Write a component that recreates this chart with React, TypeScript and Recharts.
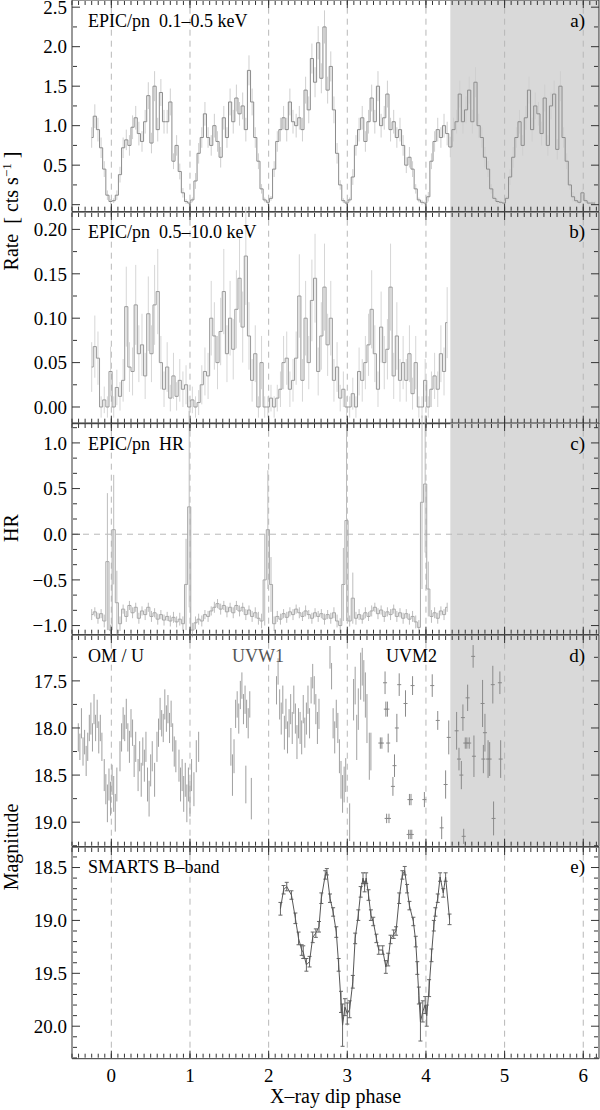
import React from "react";
import {
  ComposedChart,
  Line,
  Scatter,
  XAxis,
  YAxis,
  ErrorBar,
  ReferenceLine,
  ReferenceArea,
} from "recharts";

// X-ray light curves, binned in phase (bin centre = binStart + i * binWidth)
const binStart = -0.25;
const binWidth = 0.04;

const softRate = [
  0.85, 1.12, 0.95, 0.72, 0.45, 0.12, 0.04, 0.05, 0.12, 0.38,
  0.72, 0.82, 0.75, 0.98, 1.1, 0.9, 0.8, 1.05, 1.38, 0.78,
  1.5, 0.95, 1.42, 1.05, 1.05, 1.3, 0.55, 0.75, 0.42, 0.15,
  0.04, 0.02, 0.06, 0.3, 0.65, 0.85, 1.15, 0.85, 0.75, 1.0,
  0.8, 0.6, 1.1, 0.85, 1.3, 1.05, 1.35, 1.15, 1.25, 0.95,
  1.7, 1.3, 0.85, 0.55, 0.2, 0.06, 0.03, 0.08, 0.45, 0.8,
  0.95, 1.1, 0.95, 1.3, 1.05, 1.0, 1.1, 0.95, 1.45, 1.2,
  1.85, 1.55, 2.05, 1.6, 2.25, 1.45, 1.75, 1.2, 0.65, 0.25,
  0.05, 0.02, 0.06, 0.35, 0.75, 0.95, 1.1, 0.8, 1.05, 1.35,
  1.05, 1.5, 1.0, 1.1, 1.4, 0.95, 1.05, 0.85, 0.95, 0.75,
  0.5, 0.6, 0.45, 0.2, 0.06, 0.03, 0.02, 0.1, 0.55, 0.8,
  0.95, 0.85, 1.0, 0.9, 0.73, 0.95, 1.05, 1.4, 1.05, 1.2,
  1.45, 1.05, 1.55, 1.0, 0.85, 0.6, 0.45, 0.2, 0.08, 0.04,
  0.03, 0.02, 0.08, 0.35, 0.6, 0.85, 1.05, 0.75, 1.1, 1.45,
  0.95, 1.25, 1.15, 0.9, 1.35, 0.75, 1.25, 1.4, 0.7, 1.5,
  0.85, 0.55, 0.25, 0.1, 0.05, 0.03, 0.15, 0.05, 0.02, 0.02,
  0.02,
];
const softErr = [
  0.13, 0.15, 0.15, 0.13, 0.1, 0.06, 0.03, 0.03, 0.06, 0.1,
  0.13, 0.13, 0.13, 0.15, 0.15, 0.15, 0.13, 0.15, 0.17, 0.13,
  0.19, 0.15, 0.17, 0.15, 0.15, 0.17, 0.1, 0.13, 0.1, 0.06,
  0.03, 0.03, 0.03, 0.1, 0.13, 0.13, 0.15, 0.13, 0.13, 0.15,
  0.13, 0.13, 0.15, 0.13, 0.17, 0.15, 0.17, 0.15, 0.17, 0.15,
  0.19, 0.17, 0.13, 0.1, 0.06, 0.03, 0.03, 0.03, 0.1, 0.13,
  0.15, 0.15, 0.15, 0.17, 0.15, 0.15, 0.15, 0.15, 0.17, 0.17,
  0.19, 0.19, 0.21, 0.19, 0.21, 0.17, 0.19, 0.17, 0.13, 0.06,
  0.03, 0.03, 0.03, 0.1, 0.13, 0.15, 0.15, 0.13, 0.15, 0.17,
  0.15, 0.19, 0.15, 0.15, 0.17, 0.15, 0.15, 0.13, 0.15, 0.13,
  0.1, 0.13, 0.1, 0.06, 0.03, 0.03, 0.03, 0.06, 0.1, 0.13,
  0.15, 0.13, 0.15, 0.15, 0.13, 0.15, 0.15, 0.17, 0.15, 0.17,
  0.17, 0.15, 0.19, 0.15, 0.13, 0.13, 0.1, 0.06, 0.03, 0.03,
  0.03, 0.03, 0.03, 0.1, 0.13, 0.13, 0.15, 0.13, 0.15, 0.17,
  0.15, 0.17, 0.15, 0.15, 0.17, 0.13, 0.17, 0.17, 0.13, 0.19,
  0.13, 0.1, 0.06, 0.06, 0.03, 0.03, 0.06, 0.03, 0.03, 0.03,
  0.03,
];

const hardRate = [
  0.045, 0.068, 0.055, 0.0, 0.008, 0.0, 0.04, 0.0, 0.022, 0.012,
  0.03, 0.113, 0.045, 0.04, 0.115, 0.06, 0.07, 0.035, 0.105, 0.06,
  0.115, 0.13, 0.05, 0.02, 0.045, 0.01, 0.035, 0.012, 0.03, 0.02,
  0.025, 0.0, 0.008, 0.0, 0.005, 0.025, 0.04, 0.035, 0.1, 0.08,
  0.05, 0.085, 0.13, 0.06, 0.1, 0.065, 0.11, 0.145, 0.09, 0.17,
  0.08, 0.03, 0.06, 0.0, 0.05, 0.0, 0.0, 0.01, 0.0, 0.01,
  0.02, 0.05, 0.055, 0.02, 0.03, 0.055, 0.125, 0.03, 0.1, 0.05,
  0.12, 0.145, 0.04, 0.08, 0.135, 0.07, 0.1, 0.03, 0.045, 0.01,
  0.02, 0.0, 0.0, 0.015, 0.0, 0.04, 0.03, 0.05, 0.07, 0.11,
  0.06, 0.02, 0.09, 0.05, 0.065, 0.135, 0.035, 0.08, 0.03, 0.05,
  0.03, 0.06, 0.015, 0.05, 0.0, 0.0, 0.03, 0.0, 0.02, 0.035,
  0.02, 0.06, 0.04, 0.095,
];
const hardErr = [
  0.028, 0.035, 0.03, 0.012, 0.015, 0.012, 0.028, 0.012, 0.02, 0.016,
  0.024, 0.045, 0.028, 0.027, 0.045, 0.032, 0.035, 0.026, 0.042, 0.032,
  0.045, 0.048, 0.03, 0.02, 0.028, 0.015, 0.026, 0.016, 0.024, 0.02,
  0.022, 0.012, 0.015, 0.012, 0.014, 0.022, 0.027, 0.026, 0.042, 0.038,
  0.03, 0.038, 0.048, 0.032, 0.042, 0.034, 0.044, 0.05, 0.04, 0.055,
  0.038, 0.024, 0.032, 0.012, 0.03, 0.012, 0.012, 0.015, 0.012, 0.015,
  0.02, 0.03, 0.03, 0.02, 0.024, 0.03, 0.047, 0.024, 0.042, 0.03,
  0.046, 0.05, 0.027, 0.038, 0.049, 0.035, 0.042, 0.024, 0.028, 0.015,
  0.02, 0.012, 0.012, 0.018, 0.012, 0.027, 0.024, 0.03, 0.035, 0.044,
  0.032, 0.02, 0.04, 0.03, 0.034, 0.049, 0.026, 0.038, 0.024, 0.03,
  0.024, 0.032, 0.018, 0.03, 0.012, 0.012, 0.024, 0.012, 0.02, 0.026,
  0.02, 0.032, 0.027, 0.04,
];

const hardness = [
  -0.88, -0.85, -0.92, -0.87, -0.95, -0.3, -1.05, 0.05, -0.75, -0.98,
  -0.82, -0.9, -0.78, -0.86, -0.8, -0.92, -0.84, -0.88, -0.8, -0.9,
  -0.86, -0.93, -0.88, -0.94, -0.9, -0.95, -0.91, -0.96, -0.93, -0.98,
  -0.55, 0.3, -1.05, -0.97, -0.93, -0.95, -0.88, -0.9, -0.84, -0.8,
  -0.76, -0.82, -0.78, -0.85, -0.8, -0.86, -0.78, -0.84, -0.8, -0.88,
  -0.83, -0.9, -0.86, -0.92, -0.95, -0.5, 0.05, -0.55, -0.98, -0.9,
  -0.93, -0.87, -0.91, -0.85, -0.88, -0.82, -0.86, -0.9, -0.84, -0.88,
  -0.92, -0.86, -0.9, -0.87, -0.93, -0.88, -0.92, -0.86, -0.95, -1.0,
  -0.55, 0.15, -0.95, -0.7, -0.92, -0.88, -0.93, -0.86, -0.9, -0.84,
  -0.8, -0.87, -0.83, -0.9, -0.85, -0.88, -0.82, -0.9, -0.86, -0.92,
  -0.87, -0.93, -0.9, -0.96, -1.02, 0.35, 0.55, -0.6, -0.9, -0.86,
  -0.92, -0.84, -0.88, -0.8,
];
const hardnessErr = [
  0.06, 0.05, 0.06, 0.05, 0.07, 0.75, 0.06, 0.6, 0.35, 0.08,
  0.05, 0.06, 0.05, 0.06, 0.05, 0.06, 0.05, 0.06, 0.05, 0.06,
  0.05, 0.06, 0.05, 0.06, 0.05, 0.06, 0.06, 0.06, 0.07, 0.08,
  0.5, 1.1, 0.08, 0.07, 0.06, 0.06, 0.05, 0.06, 0.05, 0.06,
  0.05, 0.06, 0.05, 0.06, 0.05, 0.06, 0.05, 0.06, 0.05, 0.06,
  0.05, 0.06, 0.06, 0.07, 0.08, 0.5, 0.65, 0.3, 0.08, 0.06,
  0.06, 0.05, 0.06, 0.05, 0.06, 0.05, 0.06, 0.05, 0.06, 0.05,
  0.06, 0.05, 0.06, 0.05, 0.06, 0.05, 0.06, 0.06, 0.07, 0.08,
  0.4, 1.1, 0.06, 0.28, 0.07, 0.06, 0.05, 0.06, 0.05, 0.06,
  0.05, 0.06, 0.05, 0.06, 0.05, 0.06, 0.05, 0.06, 0.05, 0.06,
  0.05, 0.06, 0.06, 0.07, 0.08, 0.95, 0.75, 0.3, 0.07, 0.06,
  0.06, 0.05, 0.06, 0.05,
];

// XMM optical monitor photometry
const uPhase = [
  -0.42, -0.4, -0.38, -0.36, -0.34, -0.32, -0.3, -0.28, -0.26, -0.24, -0.22, -0.2, -0.18, -0.16, -0.14, -0.12,
  -0.09, -0.07, -0.05, -0.03, -0.01, 0.01, 0.03, 0.05, 0.07,
  0.11, 0.13, 0.15, 0.17, 0.19, 0.21, 0.23, 0.25, 0.27, 0.29, 0.31,
  0.34, 0.36, 0.38, 0.4, 0.42, 0.44, 0.46, 0.48, 0.5, 0.52, 0.55,
  0.58, 0.6, 0.62, 0.64, 0.66, 0.68, 0.7, 0.72, 0.74, 0.76, 0.78, 0.8, 0.82,
  0.86, 0.88, 0.9, 0.92, 0.94, 0.96, 0.98, 1.0, 1.02, 1.05, 1.08, 1.11,
];
const uMag = [
  18.1, 18.2, 17.95, 18.25, 18.15, 18.35, 18.2, 18.0, 17.9, 18.1, 17.8, 18.0, 17.85, 18.1, 18.0, 18.2,
  18.5, 18.65, 18.8, 18.6, 18.75, 18.55, 18.7, 18.9, 18.6,
  18.3, 18.1, 17.95, 18.0, 17.85, 18.1, 18.2, 17.95, 18.05, 18.35, 18.2,
  18.5, 18.3, 18.55, 18.25, 18.4, 18.2, 18.6, 18.75, 18.45, 18.3, 18.55,
  18.2, 18.05, 17.85, 17.95, 18.0, 17.75, 17.9, 17.8, 18.0, 17.85, 18.1, 18.25, 18.3,
  18.4, 18.6, 18.5, 18.7, 18.55, 18.8, 18.6, 18.75, 18.5, 18.65, 18.3, 18.2,
];
const uErr = [
  0.15, 0.14, 0.16, 0.15, 0.13, 0.16, 0.15, 0.14, 0.17, 0.15, 0.16, 0.14, 0.15, 0.17, 0.14, 0.15,
  0.17, 0.16, 0.2, 0.17, 0.18, 0.16, 0.19, 0.2, 0.18,
  0.16, 0.15, 0.17, 0.14, 0.16, 0.15, 0.17, 0.15, 0.14, 0.17, 0.16,
  0.17, 0.16, 0.18, 0.15, 0.17, 0.16, 0.18, 0.19, 0.17, 0.16, 0.18,
  0.16, 0.15, 0.17, 0.14, 0.15, 0.16, 0.14, 0.15, 0.16, 0.14, 0.15, 0.16, 0.17,
  0.17, 0.18, 0.17, 0.19, 0.18, 0.2, 0.18, 0.19, 0.17, 0.18, 0.17, 0.16,
];

const uvw1Phase = [
  1.52, 1.54, 1.56, 1.58, 1.6, 1.62, 1.64, 1.66, 1.68, 1.7, 1.71, 1.72, 1.74, 1.76, 1.78,
  2.1, 2.12, 2.14, 2.16, 2.18, 2.2, 2.22, 2.24, 2.26, 2.28, 2.3, 2.32, 2.34, 2.36,
  2.38, 2.4, 2.42, 2.44, 2.46, 2.48, 2.5, 2.52, 2.54, 2.56, 2.58, 2.6, 2.62, 2.64,
  2.78, 2.8, 2.82, 2.84, 2.86, 2.88, 2.9, 2.92, 2.94, 2.96, 2.98,
  3.03, 3.08, 3.1, 3.12, 3.14, 3.17, 3.19, 3.21, 3.23, 3.25, 3.28, 3.3,
];
const uvw1Mag = [
  18.2, 18.5, 18.3, 17.85, 17.75, 17.9, 17.65, 17.55, 17.8, 17.7, 18.6, 17.85, 17.95, 17.75, 18.75,
  17.6, 17.4, 17.75, 17.9, 17.7, 18.05, 17.85, 18.1, 17.95, 17.8, 18.0, 17.7, 17.9, 18.15,
  17.95, 18.0, 18.1, 17.8, 18.05, 17.9, 17.7, 17.95, 17.6, 17.45, 17.6, 17.8, 18.0, 17.85,
  17.25, 17.45, 17.95, 18.1, 17.85, 18.0, 18.3, 18.55, 18.7, 18.6, 18.5,
  19.0, 17.7, 17.55, 18.1, 17.8, 17.45, 17.35, 17.5, 17.65, 17.9, 18.3, 18.25,
];
const uvw1Err = [
  0.2, 0.22, 0.18, 0.15, 0.14, 0.16, 0.15, 0.14, 0.16, 0.15, 0.2, 0.15, 0.16, 0.14, 0.22,
  0.15, 0.14, 0.16, 0.17, 0.15, 0.18, 0.16, 0.17, 0.15, 0.16, 0.17, 0.15, 0.16, 0.18,
  0.16, 0.17, 0.18, 0.15, 0.16, 0.17, 0.15, 0.16, 0.14, 0.13, 0.15, 0.16, 0.17, 0.16,
  0.12, 0.14, 0.16, 0.17, 0.15, 0.16, 0.18, 0.2, 0.2, 0.19, 0.18,
  0.2, 0.22, 0.2, 0.24, 0.22, 0.25, 0.2, 0.22, 0.24, 0.26, 0.25, 0.2,
];

const uvm2Phase = [
  3.42, 3.44, 3.48, 3.49, 3.51, 3.5, 3.53, 3.52, 3.58, 3.6, 3.63, 3.66, 3.74,
  3.79, 3.81, 3.78, 3.8, 3.82, 3.83, 3.98, 4.08, 4.15, 4.2, 4.25, 4.29,
  4.39, 4.42, 4.45, 4.47, 4.48, 4.5, 4.52, 4.55, 4.53, 4.6, 4.61,
  4.72, 4.73, 4.75, 4.79, 4.81, 4.85, 4.86, 4.94, 4.95,
];
const uvm2Mag = [
  18.16, 18.16, 17.52, 17.8, 17.8, 18.96, 18.96, 18.16, 18.62, 18.4, 18.0, 17.54, 17.74,
  18.76, 18.76, 19.13, 19.13, 19.13, 17.55, 18.76, 17.55, 17.92, 19.06, 18.6, 18.1,
  18.03, 18.33, 18.5, 17.89, 19.15, 18.16, 18.16, 18.16, 17.68, 17.24, 18.3,
  17.74, 18.33, 18.05, 18.33, 18.33, 17.54, 18.96, 17.52, 18.33,
];
const uvm2Err = [
  0.06, 0.06, 0.12, 0.08, 0.08, 0.05, 0.05, 0.1, 0.1, 0.12, 0.15, 0.12, 0.14,
  0.06, 0.06, 0.05, 0.05, 0.05, 0.1, 0.08, 0.12, 0.1, 0.12, 0.15, 0.18,
  0.2, 0.12, 0.15, 0.14, 0.08, 0.06, 0.06, 0.06, 0.14, 0.12, 0.22,
  0.25, 0.15, 0.2, 0.2, 0.18, 0.2, 0.18, 0.12, 0.2,
];

// SMARTS B-band photometry
const bPhase = [
  2.15, 2.19, 2.23, 2.29, 2.34, 2.38, 2.42, 2.44, 2.48, 2.52, 2.56, 2.6, 2.64, 2.67, 2.72, 2.74,
  2.78, 2.82, 2.86, 2.89, 2.92, 2.94, 2.97, 3.0, 3.03, 3.07, 3.1, 3.14, 3.17, 3.2, 3.22, 3.24,
  3.27, 3.3, 3.33, 3.37, 3.4, 3.45, 3.49, 3.52, 3.55, 3.59, 3.62, 3.66, 3.7, 3.73, 3.76, 3.79,
  3.84, 3.87, 3.89, 3.91, 3.93, 3.96, 3.99, 4.01, 4.04, 4.07, 4.1, 4.12, 4.15, 4.18, 4.22, 4.25, 4.3,
];
const bMag = [
  18.89, 18.71, 18.68, 18.76, 18.98, 19.17, 19.28, 19.3, 19.42, 19.39, 19.16, 19.12, 19.06, 18.79, 18.57, 18.54,
  18.79, 18.92, 19.11, 19.42, 19.77, 19.99, 19.82, 19.88, 19.84, 19.58, 19.17, 18.95, 18.73, 18.6, 18.68, 18.6,
  18.76, 18.95, 19.01, 19.17, 19.28, 19.28, 19.44, 19.37, 19.18, 19.13, 19.1, 18.79, 18.57, 18.53, 18.7, 18.86,
  19.01, 19.2, 19.45, 19.71, 19.96, 19.86, 19.8, 19.9, 19.64, 19.33, 19.05, 18.92, 18.79, 18.59, 18.74, 18.59, 18.99,
];
const bErr = [
  0.06, 0.04, 0.04, 0.04, 0.05, 0.06, 0.05, 0.06, 0.06, 0.05, 0.05, 0.04, 0.05, 0.05, 0.04, 0.03,
  0.04, 0.04, 0.05, 0.06, 0.1, 0.2, 0.08, 0.1, 0.08, 0.06, 0.05, 0.05, 0.05, 0.05, 0.05, 0.05,
  0.05, 0.05, 0.04, 0.04, 0.04, 0.04, 0.06, 0.06, 0.04, 0.04, 0.04, 0.05, 0.04, 0.04, 0.04, 0.04,
  0.04, 0.05, 0.06, 0.08, 0.18, 0.1, 0.08, 0.1, 0.08, 0.06, 0.05, 0.04, 0.04, 0.04, 0.04, 0.04, 0.05,
];

const phaseDomain: [number, number] = [-0.5, 6.2];
const phaseTicks = [0, 1, 2, 3, 4, 5, 6];
// minor phase ticks every 1/12
const phaseMinor = Array.from({ length: 81 }, (_, i) => (i - 6) / 12);
const shadeFrom = 4.31;

const FONT = "'Liberation Serif', 'Times New Roman', serif";
const AXIS = "#333";
const PAD = 12; // extra room above and below each plot so edge labels are not clipped

const binned = (vals: number[], errs: number[]) =>
  vals.map((y, i) => ({ x: binStart + i * binWidth, y, e: errs[i] }));
const points = (xs: number[], ys: number[], es: number[]) =>
  xs.map((x, i) => ({ x, y: ys[i], e: es[i] }));

const softData = binned(softRate, softErr);
const hardData = binned(hardRate, hardErr);
const hrData = binned(hardness, hardnessErr);
const uData = points(uPhase, uMag, uErr);
const uvw1Data = points(uvw1Phase, uvw1Mag, uvw1Err);
const uvm2Data = points(uvm2Phase, uvm2Mag, uvm2Err);
const bData = points(bPhase, bMag, bErr);

type PanelProps = {
  top: number;
  height: number;
  domain: [number, number];
  ticks: number[];
  minor: number[];
  digits: number;
  reversed?: boolean;
  shade?: boolean;
  zero?: boolean;
  last?: boolean;
  children: React.ReactNode;
};

// inward tick mark drawn at the position the axis gives each tick
const mark = (dx: number, dy: number) => (p: any) => (
  <line x1={p.x} y1={p.y} x2={p.x + dx} y2={p.y + dy} stroke={AXIS} strokeWidth={1} />
);

// tick marks come from mirrored axes of size 1, which take no room from the plot
function xTicks(id: string, orientation: "top" | "bottom", ticks: number[], size: number) {
  const dir = orientation === "top" ? 1 : -1;
  return (
    <XAxis key={id} xAxisId={id} orientation={orientation} mirror type="number" dataKey="x" domain={phaseDomain}
      allowDataOverflow ticks={ticks} interval={0} tickSize={0} tickMargin={0} tick={mark(0, dir * size)}
      axisLine={false} tickLine={false} height={1} />
  );
}
function yTicks(id: string, orientation: "left" | "right", ticks: number[], size: number, domain: [number, number], reversed: boolean) {
  const dir = orientation === "left" ? 1 : -1;
  return (
    <YAxis key={id} yAxisId={id} orientation={orientation} mirror type="number" domain={domain} allowDataOverflow
      reversed={reversed} ticks={ticks} interval={0} tickSize={0} tickMargin={0} tick={mark(dir * size, 0)}
      axisLine={false} tickLine={false} width={1} />
  );
}

function Panel({ top, height, domain, ticks, minor, digits, reversed = false, shade = true, zero = false, last = false, children }: PanelProps) {
  const xh = last ? 54 : 0;
  const fmt = (v: number) => (v < 0 ? "\u2212" : "") + Math.abs(v).toFixed(digits);
  const tickFont = { fill: "#000", fontSize: 19, fontFamily: FONT };
  return (
    <div style={{ position: "absolute", left: 0, top: top - PAD }}>
      <ComposedChart width={600} height={height + xh + PAD + (last ? 0 : PAD)}
        margin={{ top: PAD, right: 1, bottom: last ? 0 : PAD, left: 0 }}>
        <XAxis xAxisId="b" orientation="bottom" type="number" dataKey="x" domain={phaseDomain} allowDataOverflow
          ticks={phaseTicks} interval={0} tickSize={0} tickMargin={10} tick={last ? tickFont : false}
          axisLine={false} tickLine={false} height={last ? xh : 1} hide={!last} />
        {xTicks("bM", "bottom", phaseTicks, 8)}
        {xTicks("bm", "bottom", phaseMinor, 4)}
        {xTicks("tM", "top", phaseTicks, 8)}
        {xTicks("tm", "top", phaseMinor, 4)}
        <YAxis yAxisId="l" type="number" domain={domain} allowDataOverflow reversed={reversed}
          ticks={ticks} interval={0} tickSize={0} tickMargin={5} tick={tickFont} tickFormatter={fmt}
          axisLine={false} tickLine={false} width={72} />
        {yTicks("lM", "left", ticks, 8, domain, reversed)}
        {yTicks("lm", "left", minor, 4, domain, reversed)}
        {yTicks("rM", "right", ticks, 8, domain, reversed)}
        {yTicks("rm", "right", minor, 4, domain, reversed)}
        {shade && (
          <ReferenceArea xAxisId="b" yAxisId="l" x1={shadeFrom} x2={6.2} y1={domain[0]} y2={domain[1]}
            fill="#d9d9d9" fillOpacity={1} stroke="none" ifOverflow="hidden" />
        )}
        {phaseTicks.map((p) => (
          <ReferenceLine key={p} xAxisId="b" yAxisId="l" x={p} stroke="#b8b8b8" strokeDasharray="6 5" />
        ))}
        {zero && <ReferenceLine xAxisId="b" yAxisId="l" y={0} stroke="#b8b8b8" strokeDasharray="6 5" />}
        {children}
        <ReferenceArea xAxisId="b" yAxisId="l" x1={phaseDomain[0]} x2={phaseDomain[1]} y1={domain[0]} y2={domain[1]}
          fill="none" stroke={AXIS} strokeWidth={1} ifOverflow="visible" />
      </ComposedChart>
    </div>
  );
}

const noDot = () => <g />;
const tickDot = (props: any) => (
  <line x1={props.cx - 2} x2={props.cx + 2} y1={props.cy} y2={props.cy} stroke="#888" strokeWidth={1} />
);

function Binned({ data, line, err }: { data: any[]; line: string; err: string }) {
  return (
    <>
      <Line xAxisId="b" yAxisId="l" data={data} dataKey="y" type="step" stroke="none" dot={false}
        activeDot={false} isAnimationActive={false}>
        <ErrorBar dataKey="e" direction="y" width={0} stroke={err} strokeWidth={1} />
      </Line>
      <Line xAxisId="b" yAxisId="l" data={data} dataKey="y" type="step" stroke={line} strokeWidth={1}
        dot={false} activeDot={false} isAnimationActive={false} />
    </>
  );
}

const sp = "\u00a0";
const third = 1 / 6;

export default function App() {
  return (
    <div style={{ position: "absolute", left: 0, top: 0, width: 600, height: 1110, background: "#fff", overflow: "hidden" }}>
      <Panel top={0} height={211.7} domain={[-0.089, 2.591]} ticks={[0, 0.5, 1, 1.5, 2, 2.5]}
        minor={[0.25, 0.75, 1.25, 1.75, 2.25]} digits={1}>
        {Binned({ data: softData, line: "#8c8c8c", err: "#cfcfcf" })}
      </Panel>
      <Panel top={211.7} height={211.7} domain={[-0.0188, 0.2196]} ticks={[0, 0.05, 0.1, 0.15, 0.2]}
        minor={[0.025, 0.075, 0.125, 0.175]} digits={2}>
        {Binned({ data: hardData, line: "#999999", err: "#d6d6d6" })}
      </Panel>
      <Panel top={423.4} height={211.7} domain={[-1.1, 1.218]} ticks={[-1, -0.5, 0, 0.5, 1]}
        minor={[-1 + third, -1 + 2 * third, -0.5 + third, -0.5 + 2 * third, third, 2 * third, 0.5 + third, 0.5 + 2 * third, 1 + third]}
        digits={1} zero>
        {Binned({ data: hrData, line: "#a8a8a8", err: "#bdbdbd" })}
      </Panel>
      <Panel top={635.1} height={211.7} domain={[17.013, 19.26]} reversed ticks={[17.5, 18, 18.5, 19]}
        minor={[17.25, 17.75, 18.25, 18.75, 19.25]} digits={1}>
        <Scatter xAxisId="b" yAxisId="l" data={uData} dataKey="y" shape={noDot} isAnimationActive={false}>
          <ErrorBar dataKey="e" direction="y" width={0} stroke="#a0a0a0" strokeWidth={1} />
        </Scatter>
        <Scatter xAxisId="b" yAxisId="l" data={uvw1Data} dataKey="y" shape={noDot} isAnimationActive={false}>
          <ErrorBar dataKey="e" direction="y" width={0} stroke="#a0a0a0" strokeWidth={1} />
        </Scatter>
        <Scatter xAxisId="b" yAxisId="l" data={uvm2Data} dataKey="y" shape={tickDot} isAnimationActive={false}>
          <ErrorBar dataKey="e" direction="y" width={0} stroke="#8a8a8a" strokeWidth={1} />
        </Scatter>
      </Panel>
      <Panel top={846.8} height={211.7} domain={[18.306, 20.307]} reversed ticks={[18.5, 19, 19.5, 20]}
        minor={[18.4, 18.6, 18.7, 18.8, 18.9, 19.1, 19.2, 19.3, 19.4, 19.6, 19.7, 19.8, 19.9, 20.1, 20.2, 20.3]}
        digits={1} shade={false} last>
        <Line xAxisId="b" yAxisId="l" data={bData} dataKey="y" type="linear" stroke="#555" strokeWidth={1}
          dot={false} activeDot={false} isAnimationActive={false}>
          <ErrorBar dataKey="e" direction="y" width={2} stroke="#666" strokeWidth={1} />
        </Line>
      </Panel>

      <svg width={600} height={1110} style={{ position: "absolute", left: 0, top: 0, pointerEvents: "none" }}
        fontFamily={FONT} fill="#000">
        <g fontSize={18}>
          <text x={88} y={26.5}>{`EPIC/pn${sp}${sp}0.1\u20130.5${sp}keV`}</text>
          <text x={88} y={238.2}>{`EPIC/pn${sp}${sp}0.5\u201310.0${sp}keV`}</text>
          <text x={88} y={449.9}>{`EPIC/pn${sp}${sp}HR`}</text>
          <text x={88} y={661.6}>{"OM / U"}</text>
          <text x={232} y={661.6} fill="#555">UVW1</text>
          <text x={386} y={661.6}>UVM2</text>
          <text x={88} y={873.3}>{"SMARTS B\u2013band"}</text>
        </g>
        <g fontSize={19} textAnchor="end">
          <text x={585} y={26.5}>a)</text>
          <text x={585} y={238.2}>b)</text>
          <text x={585} y={449.9}>c)</text>
          <text x={585} y={661.6}>d)</text>
          <text x={585} y={873.3}>e)</text>
        </g>
        <g fontSize={20} textAnchor="middle">
          <text transform="translate(18,211) rotate(-90)">
            {`Rate${sp}${sp}[${sp}cts${sp}s`}
            <tspan dy={-7} fontSize={13}>{"\u22121"}</tspan>
            <tspan dy={7}>{`${sp}]`}</tspan>
          </text>
          <text transform="translate(18,528) rotate(-90)">HR</text>
          <text transform="translate(18,847) rotate(-90)">Magnitude</text>
          <text x={335.5} y={1103}>{"X\u2013ray dip phase"}</text>
        </g>
      </svg>
    </div>
  );
}
